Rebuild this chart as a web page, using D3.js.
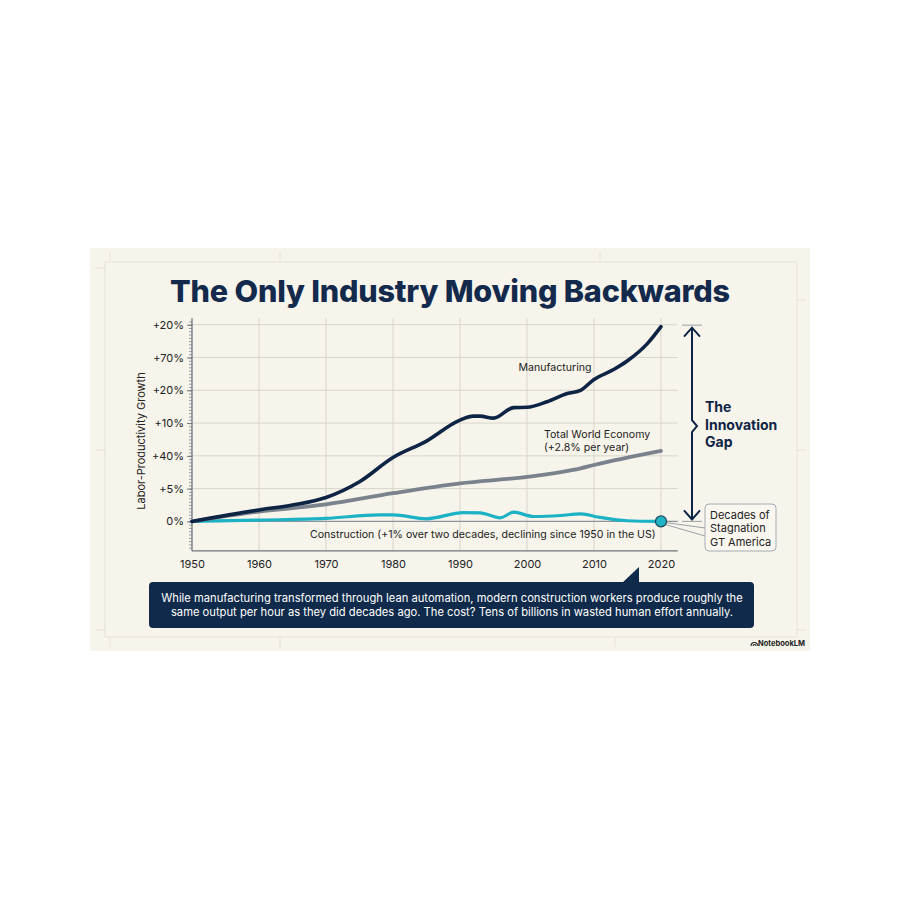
<!DOCTYPE html>
<html>
<head>
<meta charset="utf-8">
<script src="https://cdn.jsdelivr.net/npm/d3@7"></script>
<style>
  body { margin: 0; background: #ffffff; }
  svg { display: block; font-family: Inter, "Liberation Sans", sans-serif; }
</style>
</head>
<body>
<svg id="chart" width="900" height="900"></svg>
<script>
// y axis labels as printed on the chart (one per gridline, bottom to top)
var yTickLabels = ["0%", "+5%", "+40%", "+10%", "+20%", "+70%", "+20%"];
var xTickYears = [1950, 1960, 1970, 1980, 1990, 2000, 2010, 2020];

// values are in gridline units (0 = "0%" line, 6 = top line)
var mfgYears  = [1950, 1960, 1965, 1970, 1975, 1980, 1985, 1990, 1992, 1993, 1995, 1998, 2000, 2003, 2006, 2008, 2010, 2013, 2015, 2018, 2020];
var mfgValues = [0, 0.35, 0.5, 0.73, 1.21, 1.95, 2.45, 3.09, 3.21, 3.21, 3.15, 3.47, 3.48, 3.65, 3.9, 4.0, 4.33, 4.64, 4.9, 5.43, 5.94];

var worldYears  = [1950, 1960, 1970, 1980, 1990, 2000, 2008, 2010, 2020];
var worldValues = [0, 0.3, 0.52, 0.86, 1.16, 1.36, 1.62, 1.72, 2.15];

var conYears  = [1950, 1960, 1970, 1978, 1980, 1985, 1990.5, 1993, 1996, 1998, 2001, 2005, 2008, 2010.7, 2015, 2020];
var conValues = [0, 0.04, 0.09, 0.2, 0.2, 0.08, 0.27, 0.26, 0.11, 0.28, 0.15, 0.18, 0.23, 0.13, 0.02, 0];

var navy = "#0e2445", grey = "#7a838d", teal = "#1cb2c6";

var svg = d3.select("#chart");

// card
svg.append("rect").attr("x", 90).attr("y", 248).attr("width", 720).attr("height", 403).attr("fill", "#f7f4eb");
var frame = svg.append("g").attr("stroke", "#e6e2d7").attr("fill", "none").attr("stroke-width", 1);
frame.append("rect").attr("x", 105).attr("y", 262).attr("width", 692).attr("height", 375);
[[110, 252, 110, 262], [280, 252, 280, 262], [600, 252, 600, 262], [110, 637, 110, 647], [280, 637, 280, 647], [615, 637, 615, 647],
 [95, 268, 105, 268], [95, 450, 105, 450], [95, 630, 105, 630], [797, 300, 806, 300], [797, 450, 806, 450], [797, 630, 806, 630]]
  .forEach(function(l) {
    frame.append("line").attr("x1", l[0]).attr("y1", l[1]).attr("x2", l[2]).attr("y2", l[3]);
  });

// title
svg.append("text").attr("x", 450).attr("y", 302).attr("text-anchor", "middle")
  .attr("font-size", 30.6).attr("font-weight", 800).attr("fill", "#132a4c")
  .attr("letter-spacing", -0.2)
  .text("The Only Industry Moving Backwards");

// scales
var x = d3.scaleLinear().domain([1950, 2020]).range([192, 661]);
var y = d3.scaleLinear().domain([0, 6]).range([521.4, 324.7]);
var yBottom = y(-0.9), yTop = y(6.2), xRight = x(2022.5);

// grid
var grid = svg.append("g").attr("stroke", "#d8d5cb").attr("stroke-width", 1);
xTickYears.slice(1).forEach(function(yr) {
  grid.append("line").attr("x1", x(yr)).attr("x2", x(yr)).attr("y1", yTop).attr("y2", yBottom);
});
d3.range(1, yTickLabels.length).forEach(function(v) {
  grid.append("line").attr("x1", x(1950)).attr("x2", xRight).attr("y1", y(v)).attr("y2", y(v));
});
svg.append("line").attr("x1", x(1950)).attr("x2", xRight).attr("y1", y(0)).attr("y2", y(0))
  .attr("stroke", "#8d949b").attr("stroke-width", 1.2);

// y axis: minor ticks, then labelled ticks
var yMinor = svg.append("g").attr("transform", "translate(" + x(1950) + ",0)")
  .call(d3.axisLeft(d3.scaleLinear().domain([-0.9, 6.2]).range([yBottom, yTop]))
    .tickValues(d3.range(-8, 62).map(function(d) { return d / 10; }))
    .tickSize(3).tickFormat(""));
yMinor.select(".domain").remove();
yMinor.selectAll("line").attr("stroke", "#9aa0a6");

var yAxis = svg.append("g").attr("transform", "translate(" + x(1950) + ",0)")
  .call(d3.axisLeft(y).tickValues(d3.range(yTickLabels.length))
    .tickFormat(function(d) { return yTickLabels[d]; })
    .tickSize(5).tickPadding(3));
yAxis.select(".domain").remove();
yAxis.selectAll("line").attr("stroke", "#6f767d");
yAxis.selectAll("text").attr("font-family", "Inter, sans-serif").attr("font-size", 11).attr("fill", "#222");
svg.append("line").attr("x1", x(1950)).attr("x2", x(1950)).attr("y1", yTop).attr("y2", yBottom)
  .attr("stroke", "#6f767d").attr("stroke-width", 1.3);

// x axis
var xAxis = svg.append("g").attr("transform", "translate(0," + yBottom + ")")
  .call(d3.axisBottom(x).tickValues(xTickYears).tickFormat(d3.format("d")).tickSize(0).tickPadding(9));
xAxis.select(".domain").remove();
xAxis.selectAll("text").attr("font-family", "Inter, sans-serif").attr("font-size", 11).attr("fill", "#222");
svg.append("line").attr("x1", x(1950)).attr("x2", xRight).attr("y1", yBottom).attr("y2", yBottom)
  .attr("stroke", "#6f767d").attr("stroke-width", 1.3);

// y title
svg.append("text").attr("transform", "translate(145,441) rotate(-90)").attr("text-anchor", "middle")
  .attr("font-size", 11).attr("fill", "#222").text("Labor-Productivity Growth");

// lines
var line = d3.line().x(function(d) { return x(d[0]); }).y(function(d) { return y(d[1]); }).curve(d3.curveMonotoneX);
function draw(years, values, color, width) {
  svg.append("path").datum(d3.zip(years, values)).attr("d", line)
    .attr("fill", "none").attr("stroke", color).attr("stroke-width", width)
    .attr("stroke-linecap", "round").attr("stroke-linejoin", "round");
}
draw(conYears, conValues, teal, 3.2);
draw(worldYears, worldValues, grey, 3.8);
draw(mfgYears, mfgValues, navy, 3.6);

// series labels
var lbl = svg.append("g").attr("font-size", 10.6).attr("fill", "#222");
lbl.append("text").attr("x", 555).attr("y", 371).attr("text-anchor", "middle").text("Manufacturing");
lbl.append("text").attr("x", 544).attr("y", 438).text("Total World Economy");
lbl.append("text").attr("x", 544).attr("y", 451).text("(+2.8% per year)");
lbl.append("text").attr("x", 310).attr("y", 538).text("Construction (+1% over two decades, declining since 1950 in the US)");

// callout for stagnation
var lastCon = conValues[conValues.length - 1];
var cx = x(2020), cy = y(lastCon);
svg.append("path").attr("d", "M" + (cx + 4) + "," + (cy + 1) + "L705,528M" + (cx + 4) + "," + (cy + 3) + "L705,536")
  .attr("stroke", "#9aa0a6").attr("fill", "none").attr("stroke-width", 1);
svg.append("rect").attr("x", 705).attr("y", 504).attr("width", 71).attr("height", 47).attr("rx", 4)
  .attr("fill", "#f9f7f0").attr("stroke", "#a6acb2").attr("stroke-width", 1);
var callout = svg.append("text").attr("x", 710).attr("font-size", 11).attr("fill", "#222");
["Decades of", "Stagnation", "GT America"].forEach(function(t, i) {
  callout.append("tspan").attr("x", 710).attr("y", 519 + i * 13.3).text(t);
});
svg.append("circle").attr("cx", cx).attr("cy", cy).attr("r", 5.5)
  .attr("fill", "#22b5c8").attr("stroke", "#1a4a5a").attr("stroke-width", 1.2);

// innovation gap bracket
var gx = 692, gTop = y(mfgValues[mfgValues.length - 1]), gBot = y(lastCon);
var br = svg.append("g").attr("stroke", navy).attr("fill", "none").attr("stroke-width", 2);
br.append("line").attr("x1", 682).attr("x2", 702).attr("y1", gTop - 1.5).attr("y2", gTop - 1.5).attr("stroke", "#9aa0a6").attr("stroke-width", 1);
br.append("line").attr("x1", 682).attr("x2", 702).attr("y1", gBot).attr("y2", gBot).attr("stroke", "#9aa0a6").attr("stroke-width", 1);
var gMid = (gTop + gBot) / 2 + 2;
br.append("path").attr("d", "M" + gx + "," + (gTop + 1) + "V" + (gMid - 6) + "L" + (gx + 5) + "," + gMid + "L" + gx + "," + (gMid + 6) + "V" + (gBot - 2));
br.append("path").attr("d", "M" + (gx - 8) + "," + (gTop + 10) + "L" + gx + "," + (gTop + 1) + "L" + (gx + 8) + "," + (gTop + 10));
br.append("path").attr("d", "M" + (gx - 8) + "," + (gBot - 11) + "L" + gx + "," + (gBot - 2) + "L" + (gx + 8) + "," + (gBot - 11));
var gap = svg.append("text").attr("font-size", 14).attr("font-weight", 700).attr("fill", navy);
["The", "Innovation", "Gap"].forEach(function(t, i) {
  gap.append("tspan").attr("x", 705).attr("y", 412 + i * 17.5).text(t);
});

// bottom message box
svg.append("path").attr("d", "M622,583L639,567L639,583Z").attr("fill", "#0f2a4a");
svg.append("rect").attr("x", 149).attr("y", 582).attr("width", 605).attr("height", 46).attr("rx", 4).attr("fill", "#0f2a4a");
var msg = svg.append("text").attr("text-anchor", "middle").attr("font-size", 11.2).attr("fill", "#ffffff");
["While manufacturing transformed through lean automation, modern construction workers produce roughly the",
 "same output per hour as they did decades ago. The cost? Tens of billions in wasted human effort annually."]
  .forEach(function(t, i) {
    msg.append("tspan").attr("x", 452).attr("y", 602 + i * 14).text(t);
  });

// footer mark
svg.append("text").attr("x", 805).attr("y", 646).attr("text-anchor", "end")
  .attr("font-size", 7.5).attr("font-weight", 700).attr("fill", "#222").text("NotebookLM");
svg.append("path").attr("d", "M751,646a3.5,3.5 0 0 1 7,0M753,646a1.5,1.5 0 0 1 3,0")
  .attr("fill", "none").attr("stroke", "#222").attr("stroke-width", 1.1);
</script>
</body>
</html>
